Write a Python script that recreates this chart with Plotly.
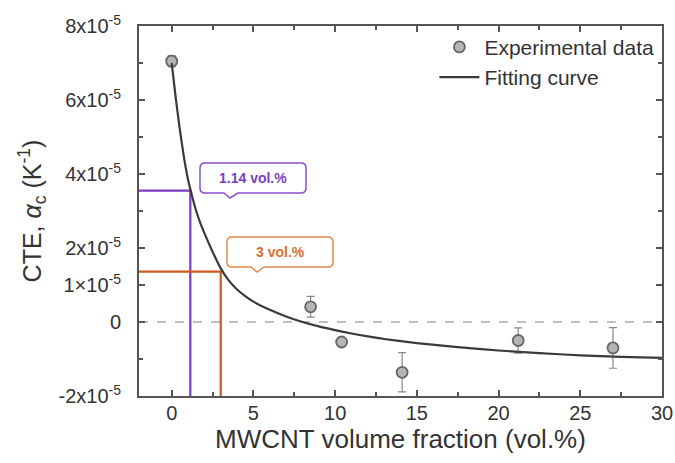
import plotly.graph_objects as go

# ---- data ----
exp_x = [0.0, 8.5, 10.4, 14.1, 21.2, 27.0]
exp_y = [7.05e-5, 0.41e-5, -0.54e-5, -1.36e-5, -0.50e-5, -0.70e-5]
exp_err = [0.15e-5, 0.28e-5, 0.08e-5, 0.53e-5, 0.34e-5, 0.55e-5]

fit_x = [0.0, 0.25, 0.5, 0.75, 1.0, 1.25, 1.5, 1.75, 2.0, 2.5, 3.0, 3.5, 4.0, 4.5, 5.0,
         6.0, 7.0, 8.0, 9.0, 10.0, 11.0, 12.0, 13.0, 15.0, 17.5, 20.0, 22.5, 25.0, 27.5, 30.0]
fit_y = [7.0e-5, 6.05e-5, 5.2e-5, 4.45e-5, 3.85e-5, 3.4e-5, 3.0e-5, 2.68e-5, 2.4e-5,
         1.9e-5, 1.45e-5, 1.12e-5, 0.88e-5, 0.7e-5, 0.55e-5, 0.33e-5, 0.15e-5, 0.0,
         -0.12e-5, -0.22e-5, -0.31e-5, -0.39e-5, -0.46e-5, -0.57e-5, -0.68e-5, -0.77e-5,
         -0.84e-5, -0.9e-5, -0.94e-5, -0.97e-5]

mark_x = [1.14, 3.0]
mark_y = [3.55e-5, 1.36e-5]
mark_labels = ["1.14 vol.%", "3 vol.%"]

x_ticks = [0, 5, 10, 15, 20, 25, 30]
y_ticks = [-2e-5, 0, 1e-5, 2e-5, 4e-5, 6e-5, 8e-5]
y_ticktext = ["-2x10<sup>-5</sup>", "0", "1×10<sup>-5</sup>", "2x10<sup>-5</sup>",
              "4x10<sup>-5</sup>", "6x10<sup>-5</sup>", "8x10<sup>-5</sup>"]
y_minor = [-1e-5, 3e-5, 5e-5, 7e-5]

X_RANGE = [-2, 30]
Y_RANGE = [-2e-5, 8e-5]

# ---- styling ----
W, H = 675, 463
ML, MR, MT, MB = 139, 13, 26, 67
PW, PH = W - ML - MR, H - MT - MB
AX = "#555555"
TXT = "#333333"
PURPLE_LINE = "#7b3cc0"
ORANGE_LINE = "#cf5a20"
PURPLE_BOX = "#8a52c8"
ORANGE_BOX = "#e58a4e"
PURPLE_TXT = "#7a3fbf"
ORANGE_TXT = "#d9702f"
FONT = "Liberation Sans, Arial, sans-serif"

fig = go.Figure()

# zero dashed line
fig.add_trace(go.Scatter(x=X_RANGE, y=[0, 0], mode="lines",
                         line=dict(color="#aaaaaa", width=1.5, dash="dash"),
                         showlegend=False, hoverinfo="skip"))

# marker guide lines
for mx, my, col in zip(mark_x, mark_y, [PURPLE_LINE, ORANGE_LINE]):
    fig.add_trace(go.Scatter(x=[X_RANGE[0], mx, mx], y=[my, my, Y_RANGE[0]],
                             mode="lines", line=dict(color=col, width=2.2),
                             showlegend=False, hoverinfo="skip"))

# experimental data
fig.add_trace(go.Scatter(x=exp_x, y=exp_y, mode="markers", name="Experimental data",
                         marker=dict(size=11, color="#b5b5b5",
                                     line=dict(color="#666666", width=1.8)),
                         error_y=dict(type="data", array=exp_err, visible=True,
                                      color="#888888", thickness=1.2, width=4)))

# fitting curve
fig.add_trace(go.Scatter(x=fit_x, y=fit_y, mode="lines", name="Fitting curve",
                         line=dict(color="#3a3a3a", width=2.2, shape="spline", smoothing=0.5)))


def px_to_paper(px, py):
    return (px - ML) / PW, (H - MB - py) / PH


def callout_path(x0, y0, x1, y1, r, pbx0, pbx1, tipx, tipy):
    def P(px, py):
        a, b = px_to_paper(px, py)
        return f"{a:.5f},{b:.5f}"
    d = f"M{P(x0 + r, y0)} L{P(x1 - r, y0)} Q{P(x1, y0)} {P(x1, y0 + r)} "
    d += f"L{P(x1, y1 - r)} Q{P(x1, y1)} {P(x1 - r, y1)} "
    d += f"L{P(pbx1, y1)} L{P(tipx, tipy)} L{P(pbx0, y1)} "
    d += f"L{P(x0 + r, y1)} Q{P(x0, y1)} {P(x0, y1 - r)} "
    d += f"L{P(x0, y0 + r)} Q{P(x0, y0)} {P(x0 + r, y0)} Z"
    return d


boxes = [
    dict(box=(200, 163, 306, 193), ptr=(224, 238, 230, 198), col=PURPLE_BOX, tcol=PURPLE_TXT, text=mark_labels[0]),
    dict(box=(227, 237, 333, 267), ptr=(251, 264, 257, 272), col=ORANGE_BOX, tcol=ORANGE_TXT, text=mark_labels[1]),
]
shapes = []
annotations = []
for b in boxes:
    x0, y0, x1, y1 = b["box"]
    pbx0, pbx1, tx, ty = b["ptr"]
    shapes.append(dict(type="path", xref="paper", yref="paper",
                       path=callout_path(x0, y0, x1, y1, 5, pbx0, pbx1, tx, ty),
                       line=dict(color=b["col"], width=1.5), fillcolor="white", layer="above"))
    cx, cy = px_to_paper((x0 + x1) / 2, (y0 + y1) / 2)
    annotations.append(dict(xref="paper", yref="paper", x=cx, y=cy, text=f"<b>{b['text']}</b>",
                            showarrow=False, font=dict(size=14, color=b["tcol"], family=FONT),
                            xanchor="center", yanchor="middle"))

fig.update_layout(
    width=W, height=H,
    margin=dict(l=ML, r=MR, t=MT, b=MB, autoexpand=False),
    paper_bgcolor="white", plot_bgcolor="white",
    font=dict(family=FONT, color=TXT, size=20),
    shapes=shapes, annotations=annotations,
    legend=dict(x=0.995, y=0.998, xanchor="right", yanchor="top",
                bgcolor="rgba(0,0,0,0)", font=dict(size=21, color=TXT),
                itemwidth=40, tracegroupgap=0),
    xaxis=dict(range=X_RANGE, tickvals=x_ticks, ticks="inside", ticklen=6, tickwidth=1.5,
               tickcolor=AX, showline=True, linecolor=AX, linewidth=2, mirror="ticks",
               showgrid=False, zeroline=False, tickfont=dict(size=20, color=TXT),
               automargin=False, ticklabelstandoff=-2,
               minor=dict(ticks="inside", ticklen=4, tickwidth=1.5, tickcolor=AX, dtick=2.5, tick0=2.5,
                          showgrid=False),
               title=dict(text="MWCNT volume fraction (vol.%)", font=dict(size=26, color=TXT), standoff=4)),
    yaxis=dict(range=Y_RANGE, tickvals=y_ticks, ticktext=y_ticktext, ticks="inside", ticklen=6,
               tickwidth=1.5, tickcolor=AX, showline=True, linecolor=AX, linewidth=2, mirror="ticks",
               showgrid=False, zeroline=False, tickfont=dict(size=20, color=TXT),
               automargin=False, ticklabelstandoff=12,
               minor=dict(ticks="inside", ticklen=4, tickwidth=1.5, tickcolor=AX, tickvals=y_minor,
                          showgrid=False),
               title=dict(text="CTE, <i>α</i><sub>c</sub> (K<sup>-1</sup>)", font=dict(size=25, color=TXT),
                          standoff=10)),
)

fig.write_html("out.html", config={"displayModeBar": False},
               post_script="document.body.style.margin='0';document.body.style.overflow='hidden';")
